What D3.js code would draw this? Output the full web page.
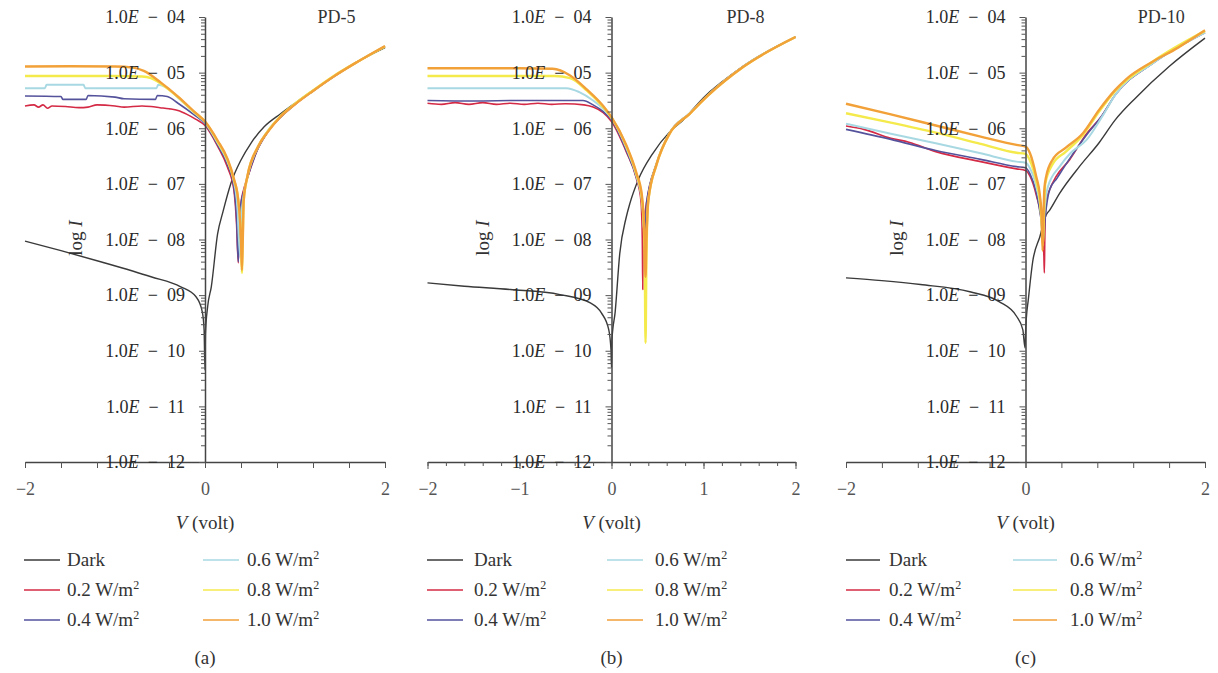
<!DOCTYPE html>
<html>
<head>
<meta charset="utf-8">
<script src="https://cdn.jsdelivr.net/npm/d3@7"></script>
<style>
  body { margin: 0; background: #fff; }
  svg text { font-family: "Liberation Serif", "DejaVu Serif", serif; fill: #333; }
</style>
</head>
<body>
<div id="chart"></div>
<script>
// series names / colours (legend order)
var seriesNames = ["Dark", "0.2", "0.4", "0.6", "0.8", "1.0"];
var seriesColors = ["#3a3a3a", "#d42a45", "#55529c", "#a8d9e3", "#f4ea4c", "#f2a139"];
var seriesWidths = [1.4, 1.6, 1.6, 2, 2.4, 2.4];
var panelTitles = ["PD-5", "PD-8", "PD-10"];
var panelCaptions = ["(a)", "(b)", "(c)"];
var yTickExps = [-4, -5, -6, -7, -8, -9, -10, -11, -12];
var yTickLabels = ["04", "05", "06", "07", "08", "09", "10", "11", "12"];

// ---- PD-5 : [V, log10 I] ----
var pd5Dark = [[-2,-8.03],[-1.6,-8.2],[-1.16,-8.40],[-0.6,-8.67],[-0.27,-8.85],[-0.1,-9.03],[-0.03,-9.3],[-0.01,-9.62],[0,-10.35],[0.005,-9.7],[0.03,-9.2],[0.07,-8.85],[0.14,-7.9],[0.2,-7.5],[0.29,-6.98],[0.4,-6.57],[0.51,-6.27],[0.66,-5.97],[0.84,-5.74],[1.0,-5.55],[1.2,-5.32],[1.43,-5.07],[1.7,-4.8],[2,-4.55]];
var pd5W02 = [[-2,-5.6],[-1.9,-5.58],[-1.85,-5.62],[-1.8,-5.58],[-1.75,-5.64],[-1.7,-5.6],[-1.55,-5.61],[-1.4,-5.63],[-1.3,-5.62],[-1.2,-5.58],[-1.0,-5.6],[-0.9,-5.62],[-0.7,-5.6],[-0.6,-5.61],[-0.5,-5.63],[-0.4,-5.65],[-0.3,-5.68],[-0.2,-5.75],[-0.1,-5.84],[0,-5.95],[0.14,-6.32],[0.25,-6.7],[0.32,-7.1],[0.35,-7.7],[0.37,-8.42],[0.38,-7.8],[0.40,-7.35],[0.43,-7.1],[0.47,-6.9],[0.59,-6.36],[0.7,-6.06],[0.84,-5.8],[1.0,-5.57],[1.2,-5.33],[1.43,-5.07],[1.7,-4.8],[2,-4.53]];
var pd5W04 = [[-2,-5.42],[-1.6,-5.43],[-1.58,-5.48],[-1.32,-5.48],[-1.3,-5.41],[-1.0,-5.44],[-0.9,-5.47],[-0.55,-5.48],[-0.53,-5.41],[-0.42,-5.43],[-0.3,-5.55],[-0.12,-5.76],[0,-5.92],[0.14,-6.3],[0.25,-6.65],[0.32,-7.05],[0.35,-7.6],[0.37,-8.4],[0.38,-7.8],[0.40,-7.35],[0.42,-7.2],[0.47,-6.9],[0.59,-6.36],[0.7,-6.06],[0.84,-5.8],[1.0,-5.57],[1.2,-5.33],[1.43,-5.07],[1.7,-4.8],[2,-4.53]];
var pd5W06 = [[-2,-5.28],[-1.78,-5.28],[-1.76,-5.22],[-1.35,-5.22],[-1.33,-5.28],[-0.54,-5.28],[-0.52,-5.22],[-0.45,-5.25],[-0.3,-5.45],[-0.12,-5.72],[0,-5.9],[0.14,-6.26],[0.25,-6.6],[0.32,-6.95],[0.36,-7.4],[0.39,-8.3],[0.41,-7.5],[0.43,-7.2],[0.47,-6.86],[0.59,-6.33],[0.7,-6.04],[0.84,-5.79],[1.0,-5.56],[1.2,-5.33],[1.43,-5.07],[1.7,-4.8],[2,-4.53]];
var pd5W08 = [[-2,-5.06],[-1.5,-5.06],[-1.0,-5.06],[-0.7,-5.07],[-0.6,-5.1],[-0.49,-5.2],[-0.3,-5.44],[-0.12,-5.71],[0,-5.88],[0.14,-6.24],[0.25,-6.57],[0.32,-6.92],[0.37,-7.3],[0.40,-8.0],[0.41,-8.6],[0.42,-7.9],[0.43,-7.3],[0.47,-6.88],[0.59,-6.33],[0.7,-6.05],[0.84,-5.78],[1.0,-5.56],[1.2,-5.32],[1.43,-5.06],[1.7,-4.8],[2,-4.53]];
var pd5W10 = [[-2,-4.89],[-1.5,-4.885],[-1.0,-4.89],[-0.8,-4.91],[-0.68,-4.97],[-0.49,-5.18],[-0.3,-5.43],[-0.12,-5.70],[0,-5.88],[0.14,-6.22],[0.25,-6.55],[0.32,-6.9],[0.37,-7.3],[0.40,-8.0],[0.41,-8.55],[0.42,-8.0],[0.43,-7.3],[0.47,-6.87],[0.59,-6.33],[0.7,-6.06],[0.84,-5.79],[1.0,-5.57],[1.2,-5.33],[1.43,-5.07],[1.7,-4.8],[2,-4.52]];

// ---- PD-8 ----
var pd8Dark = [[-2,-8.78],[-1.6,-8.84],[-1.1,-8.9],[-0.56,-8.99],[-0.23,-9.14],[-0.11,-9.32],[-0.03,-9.62],[-0.005,-10.0],[0,-10.3],[0.005,-9.8],[0.04,-9.3],[0.09,-8.25],[0.16,-7.6],[0.2,-7.35],[0.29,-6.93],[0.45,-6.45],[0.63,-6.07],[0.78,-5.85],[1.0,-5.45],[1.43,-4.89],[2,-4.36]];
var pd8W02 = [[-2,-5.55],[-1.85,-5.57],[-1.7,-5.54],[-1.55,-5.57],[-1.4,-5.54],[-1.25,-5.57],[-1.1,-5.55],[-0.95,-5.57],[-0.8,-5.55],[-0.65,-5.57],[-0.5,-5.56],[-0.3,-5.58],[-0.2,-5.62],[-0.09,-5.72],[0,-5.88],[0.16,-6.42],[0.27,-6.9],[0.32,-7.3],[0.335,-8.0],[0.34,-8.9],[0.345,-8.0],[0.36,-7.6],[0.38,-7.35],[0.49,-6.63],[0.63,-6.09],[0.85,-5.73],[1.05,-5.4],[1.43,-4.89],[2,-4.36]];
var pd8W04 = [[-2,-5.5],[-1.5,-5.51],[-1.0,-5.5],[-0.5,-5.5],[-0.31,-5.5],[-0.2,-5.58],[-0.09,-5.7],[0,-5.85],[0.16,-6.4],[0.27,-6.88],[0.33,-7.3],[0.35,-7.8],[0.36,-8.2],[0.37,-7.8],[0.38,-7.35],[0.49,-6.63],[0.63,-6.09],[0.85,-5.73],[1.05,-5.4],[1.43,-4.89],[2,-4.36]];
var pd8W06 = [[-2,-5.28],[-1.0,-5.28],[-0.49,-5.28],[-0.35,-5.35],[-0.2,-5.5],[-0.09,-5.65],[0,-5.82],[0.16,-6.35],[0.27,-6.85],[0.33,-7.3],[0.36,-8.0],[0.37,-8.4],[0.385,-7.8],[0.4,-7.3],[0.49,-6.64],[0.63,-6.09],[0.85,-5.73],[1.05,-5.4],[1.43,-4.89],[2,-4.36]];
var pd8W08 = [[-2,-5.06],[-1.0,-5.06],[-0.62,-5.06],[-0.45,-5.1],[-0.27,-5.32],[-0.09,-5.62],[0,-5.81],[0.16,-6.32],[0.27,-6.82],[0.33,-7.25],[0.36,-8.2],[0.37,-9.86],[0.38,-8.3],[0.40,-7.3],[0.49,-6.65],[0.63,-6.1],[0.85,-5.74],[1.05,-5.41],[1.43,-4.9],[2,-4.36]];
var pd8W10 = [[-2,-4.92],[-1.0,-4.92],[-0.64,-4.93],[-0.45,-5.05],[-0.27,-5.3],[-0.09,-5.6],[0,-5.8],[0.16,-6.3],[0.27,-6.8],[0.33,-7.2],[0.36,-8.0],[0.37,-8.67],[0.38,-8.0],[0.4,-7.3],[0.49,-6.65],[0.63,-6.1],[0.85,-5.74],[1.05,-5.41],[1.43,-4.9],[2,-4.36]];

// ---- PD-10 ----
var pd10Dark = [[-2,-8.69],[-1.6,-8.74],[-1.17,-8.81],[-0.62,-8.94],[-0.29,-9.12],[-0.1,-9.38],[-0.03,-9.62],[-0.005,-9.95],[0,-9.7],[0.01,-9.4],[0.03,-9.1],[0.08,-8.4],[0.16,-7.95],[0.23,-7.56],[0.27,-7.47],[0.38,-7.17],[0.6,-6.69],[0.82,-6.26],[1.0,-5.85],[1.23,-5.45],[1.6,-4.89],[2,-4.38]];
var pd10W02 = [[-2,-5.96],[-1.8,-6.02],[-1.5,-6.18],[-1.3,-6.25],[-1,-6.42],[-0.5,-6.6],[-0.1,-6.73],[0,-6.76],[0.05,-6.86],[0.12,-7.2],[0.18,-7.7],[0.205,-8.3],[0.21,-8.6],[0.215,-8.0],[0.23,-7.3],[0.27,-7.1],[0.34,-6.87],[0.49,-6.57],[0.68,-6.1],[0.85,-5.78],[1.0,-5.4],[1.42,-4.83],[2,-4.28]];
var pd10W04 = [[-2,-6.02],[-1.5,-6.2],[-1,-6.4],[-0.5,-6.56],[-0.1,-6.69],[0,-6.71],[0.05,-6.82],[0.12,-7.15],[0.17,-7.6],[0.2,-8.0],[0.22,-7.6],[0.27,-7.1],[0.35,-6.9],[0.47,-6.6],[0.68,-6.12],[0.85,-5.78],[1.0,-5.4],[1.42,-4.83],[2,-4.28]];
var pd10W06 = [[-2,-5.92],[-1.5,-6.1],[-1,-6.27],[-0.5,-6.45],[-0.1,-6.6],[0,-6.62],[0.05,-6.72],[0.12,-7.05],[0.17,-7.5],[0.19,-7.95],[0.21,-7.5],[0.25,-7.05],[0.38,-6.69],[0.5,-6.45],[0.68,-6.21],[0.85,-5.8],[1.0,-5.4],[1.42,-4.83],[2,-4.28]];
var pd10W08 = [[-2,-5.73],[-1.5,-5.9],[-1,-6.08],[-0.5,-6.28],[-0.1,-6.44],[0,-6.46],[0.05,-6.58],[0.12,-6.95],[0.16,-7.3],[0.185,-7.8],[0.195,-8.1],[0.205,-7.6],[0.22,-7.0],[0.3,-6.65],[0.45,-6.42],[0.64,-6.12],[0.82,-5.7],[1.0,-5.33],[1.42,-4.8],[2,-4.25]];
var pd10W10 = [[-2,-5.56],[-1.5,-5.75],[-1,-5.95],[-0.5,-6.15],[-0.1,-6.3],[0,-6.33],[0.05,-6.45],[0.12,-6.87],[0.16,-7.2],[0.18,-7.6],[0.19,-8.2],[0.2,-7.6],[0.21,-7.1],[0.23,-6.87],[0.3,-6.57],[0.45,-6.35],[0.64,-6.09],[0.82,-5.67],[1.0,-5.31],[1.12,-5.12],[1.42,-4.8],[1.7,-4.55],[2,-4.24]];

// panel layout (pixels)
var panels = [
  { series: [pd5Dark, pd5W02, pd5W04, pd5W06, pd5W08, pd5W10], x0: 25, x1: 385, step: 0.4, labels: [-2, 0, 2], legCols: [[24, 60, 67], [203, 239, 247]] },
  { series: [pd8Dark, pd8W02, pd8W04, pd8W06, pd8W08, pd8W10], x0: 427.5, x1: 795.5, step: 0.2, labels: [-2, -1, 0, 1, 2], legCols: [[427, 463, 474], [607, 643, 655]] },
  { series: [pd10Dark, pd10W02, pd10W04, pd10W06, pd10W08, pd10W10], x0: 846, x1: 1205, step: 0.4, labels: [-2, 0, 2], legCols: [[846, 880, 889], [1013, 1057, 1070]] }
];

var W = 1218, H = 673;
var yTop = 17, yBot = 462;

var svg = d3.select('#chart').append('svg')
    .attr('width', W).attr('height', H);

var y = d3.scaleLog().domain([1e-12, 1e-4]).range([yBot, yTop]);

function minusFmt(d) { return d < 0 ? "\u2212" + (-d) : String(d); }

panels.forEach(function(p, pi) {
  var x = d3.scaleLinear().domain([-2, 2]).range([p.x0, p.x1]);
  var g = svg.append('g');
  var ax = x(0);

  // curves (monotone keeps the flat steps from overshooting)
  var line = d3.line()
      .x(function(d) { return x(d[0]); })
      .y(function(d) { return y(Math.pow(10, d[1])); })
      .curve(d3.curveMonotoneX);

  p.series.forEach(function(s, si) {
    g.append('path')
      .attr('d', line(s))
      .attr('fill', 'none')
      .attr('stroke', seriesColors[si])
      .attr('stroke-width', seriesWidths[si])
      .attr('stroke-linejoin', 'round');
  });

  // x axis: minor ticks
  var nT = Math.round(4 / p.step);
  var xTicks = d3.range(0, nT + 1).map(function(i) { return +(-2 + i * p.step).toFixed(2); });
  g.append('g')
    .attr('transform', 'translate(0,' + yBot + ')')
    .call(d3.axisBottom(x).tickValues(xTicks).tickSize(p.step < 0.3 ? 4 : 6).tickSizeOuter(0).tickFormat(''))
    .call(function(a) {
      a.select('.domain').attr('stroke', '#444').attr('stroke-width', 1.5);
      a.selectAll('.tick line').attr('stroke', '#555');
    });
  // x axis: labelled ticks
  g.append('g')
    .attr('transform', 'translate(0,' + yBot + ')')
    .call(d3.axisBottom(x).tickValues(p.labels).tickSize(p.step < 0.3 ? 7 : 6).tickSizeOuter(0).tickPadding(p.step < 0.3 ? 13 : 14).tickFormat(minusFmt))
    .call(function(a) {
      a.select('.domain').remove();
      a.selectAll('.tick line').attr('stroke', '#555');
      a.selectAll('.tick text').attr('font-size', 18).style('fill', '#555');
    });

  // y axis: minor log ticks
  var minor = y.ticks().filter(function(v) {
    var e = Math.log10(v); return Math.abs(e - Math.round(e)) > 1e-6;
  });
  g.append('g')
    .attr('transform', 'translate(' + ax + ',0)')
    .call(d3.axisLeft(y).tickValues(minor).tickSize(4).tickSizeOuter(0).tickFormat(''))
    .call(function(a) {
      a.select('.domain').attr('stroke', '#444').attr('stroke-width', 1.5);
      a.selectAll('.tick line').attr('stroke', '#555');
    });
  // y axis: decades with labels
  var yMajor = yTickExps.map(function(e) { return Math.pow(10, e); });
  g.append('g')
    .attr('transform', 'translate(' + ax + ',0)')
    .call(d3.axisLeft(y).tickValues(yMajor).tickSize(6).tickSizeOuter(0).tickPadding(14).tickFormat(''))
    .call(function(a) {
      a.select('.domain').remove();
      a.selectAll('.tick line').attr('stroke', '#555');
      a.selectAll('.tick text').each(function(d, i) {
        var t = d3.select(this).attr('font-size', 18).style('fill', '#2a2a2a');
        t.append('tspan').text('1.0');
        t.append('tspan').attr('font-style', 'italic').text('E');
        t.append('tspan').text('\u2002\u2212\u2002' + yTickLabels[i]);
      });
    });

  // title
  g.append('text')
    .attr('x', x(1.25)).attr('y', 23)
    .attr('font-size', 18)
    .text(panelTitles[pi]);

  // axis titles
  var yl = g.append('text')
    .attr('transform', 'translate(' + (ax - 123) + ',238) rotate(-90)')
    .attr('text-anchor', 'middle')
    .attr('font-size', 19);
  yl.append('tspan').text('log ');
  yl.append('tspan').attr('font-style', 'italic').text('I');

  var xl = g.append('text')
    .attr('x', ax).attr('y', 529)
    .attr('text-anchor', 'middle')
    .attr('font-size', 19);
  xl.append('tspan').attr('font-style', 'italic').text('V');
  xl.append('tspan').text(' (volt)');

  // legend
  seriesNames.forEach(function(name, si) {
    var col = p.legCols[si < 3 ? 0 : 1];
    var ry = 560 + (si % 3) * 30;
    g.append('line')
      .attr('x1', col[0]).attr('x2', col[1])
      .attr('y1', ry).attr('y2', ry)
      .attr('stroke', seriesColors[si]).attr('stroke-width', 1.6);
    var t = g.append('text')
      .attr('x', col[2]).attr('y', ry + 6)
      .attr('font-size', 19);
    if (si == 0) {
      t.text(name);
    } else {
      t.append('tspan').text(name + ' W/m');
      t.append('tspan').attr('dy', -7).attr('font-size', 12).text('2');
    }
  });

  // caption
  g.append('text')
    .attr('x', ax).attr('y', 664)
    .attr('text-anchor', 'middle')
    .attr('font-size', 19)
    .text(panelCaptions[pi]);
});
</script>
</body>
</html>
